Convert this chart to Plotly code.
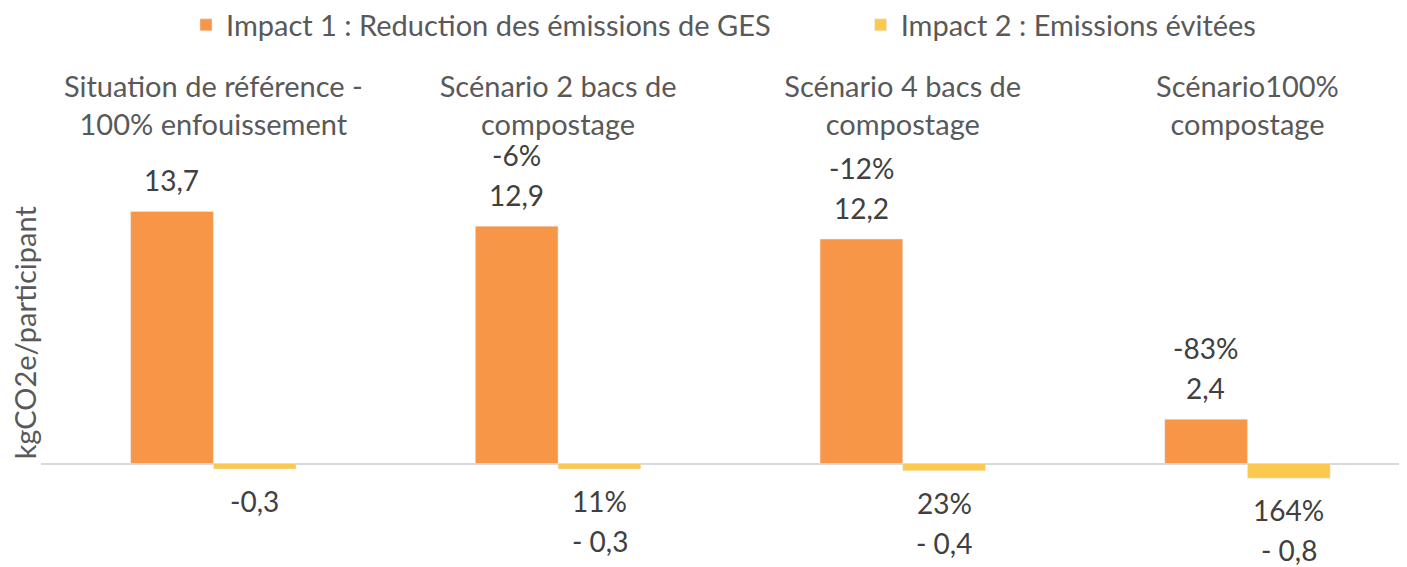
import plotly.graph_objects as go

# data
categories = ["Situation de référence -<br>100% enfouissement",
              "Scénario 2 bacs de<br>compostage",
              "Scénario 4 bacs de<br>compostage",
              "Scénario100%<br>compostage"]
impact1 = [13.7, 12.9, 12.2, 2.4]
impact2 = [-0.3, -0.3, -0.4, -0.8]
impact1_labels = ["13,7", "12,9", "12,2", "2,4"]
impact2_labels = ["-0,3", "- 0,3", "- 0,4", "- 0,8"]
impact1_pct = ["", "-6%", "-12%", "-83%"]
impact2_pct = ["", "11%", "23%", "164%"]

orange = "#F79646"
yellow = "#FCC94F"
FONT = "Lato"
lab_font = dict(size=28, color="#404040", family=FONT)

fig = go.Figure()
fig.add_trace(go.Bar(x=categories, y=impact1, name="Impact 1 : Reduction des émissions de GES",
                     marker_color=orange, legend="legend", showlegend=True))
fig.add_trace(go.Bar(x=categories, y=impact2, name="Impact 2 : Emissions évitées",
                     marker_color=yellow, legend="legend2", showlegend=True))

# data labels (half bar width in px for the offset)
half = 41.5
annots = []
for c, v, lab, pct in zip(categories, impact1, impact1_labels, impact1_pct):
    annots.append(dict(x=c, y=v, text=lab, xshift=-half, yshift=12, yanchor="bottom",
                       showarrow=False, font=lab_font))
    if pct:
        annots.append(dict(x=c, y=v, text=pct, xshift=-half, yshift=52, yanchor="bottom",
                           showarrow=False, font=lab_font))
for c, v, lab, pct in zip(categories, impact2, impact2_labels, impact2_pct):
    shift = -13
    if pct:
        annots.append(dict(x=c, y=v, text=pct, xshift=half, yshift=shift, yanchor="top",
                           showarrow=False, font=lab_font))
        shift -= 40
    annots.append(dict(x=c, y=v, text=lab, xshift=half, yshift=shift, yanchor="top",
                       showarrow=False, font=lab_font))

annots.append(dict(text="kgCO2e/participant", textangle=-90, xref="paper", yref="y",
                   x=0, xshift=-36, y=7.1, showarrow=False,
                   font=dict(size=29, color="#595959", family=FONT)))

leg = dict(orientation="h", xref="container", xanchor="left",
           yref="container", y=0.97, yanchor="middle",
           font=dict(size=29, color="#595959"))

fig.update_layout(
    width=1407, height=567,
    margin=dict(l=33, r=0, t=137, b=0),
    plot_bgcolor="white", paper_bgcolor="white",
    barmode="group", bargap=0.52, bargroupgap=0,
    font=dict(family=FONT, color="#595959", size=28),
    showlegend=True,
    legend=dict(leg, x=0.1265),
    legend2=dict(leg, x=0.606),
    annotations=annots,
    xaxis=dict(side="top", range=[-0.5, 3.486], showline=False, ticks="",
               ticklabelstandoff=3,
               tickfont=dict(size=29, color="#595959"), showgrid=False),
    yaxis=dict(range=[-6.06, 17.31], showticklabels=False, showgrid=False,
               zeroline=True, zerolinecolor="#D9D9D9", zerolinewidth=2),
)

fig.write_html("out.html")
